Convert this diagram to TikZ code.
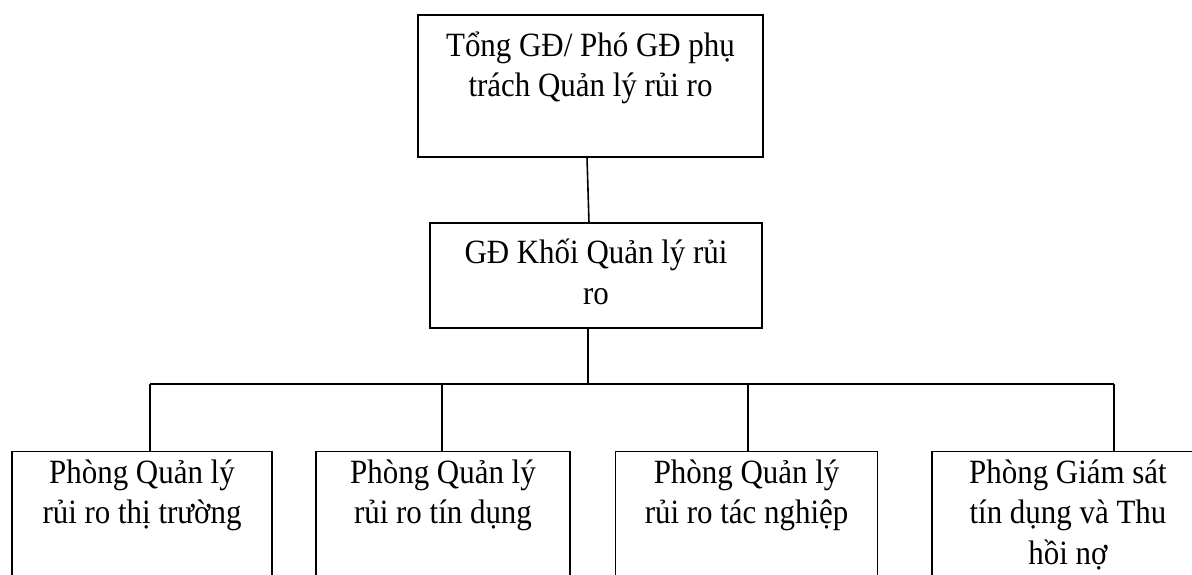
\documentclass[tikz,border=0pt]{standalone}
\usepackage{fontspec}
\setmainfont{Liberation Serif}[FakeStretch=0.91]
\tikzset{
  orgbox/.style={draw=black, line width=1.6pt, inner sep=0pt, outer sep=0pt, rectangle},
  link/.style={draw=black, line width=1.6pt}
}
% box text: width, height, first-baseline depth, lines
\newcommand{\boxtxt}[4]{\parbox[c][#2][t]{#1}{\centering\fontsize{34pt}{40.5pt}\selectfont\rule{0pt}{#3}#4}}
\begin{document}
\begin{tikzpicture}[x=1pt,y=-1pt]
\useasboundingbox (0,0) rectangle (1192,574);
\clip (0,0) rectangle (1192,574);

% top level
\node[orgbox] (top) at (590.5,86) {\boxtxt{345pt}{142pt}{41pt}{Tổng GĐ/ Phó GĐ phụ\\trách Quản lý rủi ro}};
% middle level
\node[orgbox] (mid) at (596,275.5) {\boxtxt{332pt}{105pt}{40.5pt}{GĐ Khối Quản lý rủi\\ro}};

% department boxes (running past the lower edge)
\node[orgbox, anchor=north] (d1) at (142,451.5) {\boxtxt{260.5pt}{170pt}{31.5pt}{Phòng Quản lý\\rủi ro thị trường}};
\node[orgbox, anchor=north] (d2) at (443,451.5) {\boxtxt{254pt}{170pt}{31.5pt}{Phòng Quản lý\\rủi ro tín dụng}};
\node[orgbox, anchor=north] (d3) at (746.6,451.5) {\boxtxt{262pt}{170pt}{31.5pt}{Phòng Quản lý\\rủi ro tác nghiệp}};
\node[orgbox, anchor=north] (d4) at (1068,451.5) {\boxtxt{272pt}{170pt}{31.5pt}{Phòng Giám sát\\tín dụng và Thu\\hồi nợ}};

% connectors
\coordinate (bus) at (588,384);
\draw[link] ([xshift=-3.5pt]top.south) -- ([xshift=-7pt]mid.north);
\draw[link] ([xshift=-8pt]mid.south) -- (bus);
\draw[link] (150,384) -- (1114,384);
\draw[link] (d1.north -| 150,0) -- (150,384);
\draw[link] (d2.north -| 442,0) -- (442,384);
\draw[link] (d3.north -| 748,0) -- (748,384);
\draw[link] (d4.north -| 1114,0) -- (1114,384);
\end{tikzpicture}
\end{document}
